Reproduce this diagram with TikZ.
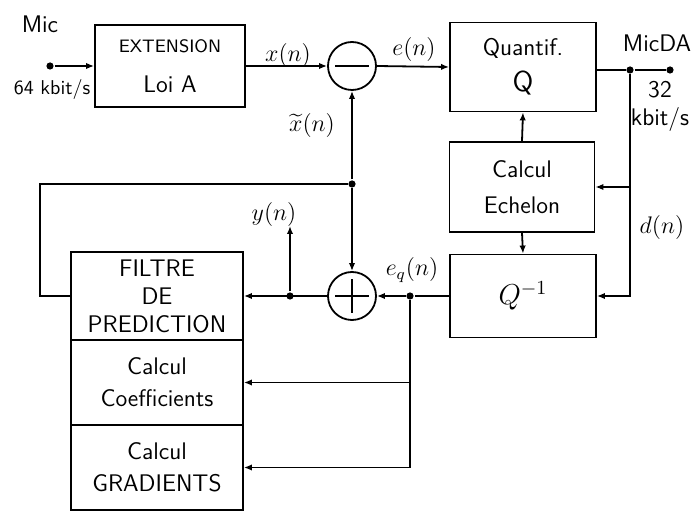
\documentclass[tikz,border=0pt]{standalone}
\usepackage{amsmath}
\usetikzlibrary{arrows.meta}

\begin{document}
\begin{tikzpicture}[x=0.5pt,y=-0.5pt,>={Latex[length=4pt,width=3.2pt]},
  line width=0.9pt,font=\sffamily,
  blk/.style 2 args={draw,inner sep=0pt,align=center,font=\sffamily\large,
    minimum width=#1*0.5pt,minimum height=#2*0.5pt},
  sumnode/.style={draw,circle,minimum size=24pt,inner sep=0pt},
  dot/.style={circle,fill,inner sep=0pt,minimum size=3.6pt},
  lbl/.style={inner sep=1pt,align=center,font=\sffamily\large}]

  \useasboundingbox (0,0) rectangle (697,513);

  % ================= blocs =================
  \node[blk={150}{82}] (ext) at (170,66)
    {{\small EXTENSION}\\[6pt]Loi A};
  \node[blk={146}{89}] (quant) at (523,67)
    {Quantif.\\[4pt]{\Large Q}};
  \node[blk={145}{90}] (ech) at (522,187)
    {Calcul\\[4pt]Echelon};
  \node[blk={146}{83}] (qinv) at (523,296) {\Large $Q^{-1}$};

  \node[blk={172}{88}] (filt) at (157,296)
    {FILTRE\\DE\\PREDICTION};
  \node[blk={172}{85}] (coef) at (157,382.5)
    {Calcul\\[2pt]Coefficients};
  \node[blk={172}{85}] (grad) at (157,467.5)
    {Calcul\\[2pt]GRADIENTS};

  % ================= sommateurs =================
  \node[sumnode] (minus) at (352,66) {};
  \draw ([xshift=4pt]minus.west) -- ([xshift=-4pt]minus.east);
  \node[sumnode] (plus) at (352,296) {};
  \draw ([xshift=4pt]plus.west) -- ([xshift=-4pt]plus.east);
  \draw ([yshift=-4pt]plus.north) -- ([yshift=4pt]plus.south);

  % ================= points et noeuds =================
  \node[dot] (micin) at (50,66) {};
  \node[dot] (micout) at (670,70) {};
  \node[dot] (jout) at (630,70) {};
  \node[dot] (jeq) at (410,296) {};
  \node[dot] (jy) at (290,296) {};
  \node[dot] (jfb) at (352,184) {};
  \coordinate (ytop) at (290,226);
  \coordinate (fbl) at (40,296);

  % ================= liaisons =================
  \draw[->] (micin) -- (ext.west);
  \draw[->] (ext.east) -- (minus.west);
  \draw[->] (minus.east) -- (quant.west);
  \draw (quant.east |- jout) -- (jout) -- (micout);
  \draw[->] (jout) |- (qinv.east);
  \draw[->] (jout |- ech.east) -- (ech.east);
  \draw[->] (ech.north) -- (quant.south);
  \draw[->] (ech.south) -- (qinv.north);
  \draw (qinv.west) -- (jeq);
  \draw[->] (jeq) -- (plus.east);
  \draw[->] (jeq) |- (coef.east);
  \draw[->] (jeq) |- (grad.east);
  \draw[->] (plus.west) -- (filt.east);
  \draw[->] (jy) -- (ytop);
  \draw (filt.west) -- (fbl) |- (jfb);
  \draw[->] (jfb) -- (minus.south);
  \draw[->] (jfb) -- (plus.north);

  % ================= etiquettes =================
  \node[lbl] (tmic) at (40,24) {Mic};
  \node[lbl,font=\sffamily] (tin) at (52,90) {64 kbit/s};
  \node[lbl] (tx) at (288,56) {$x(n)$};
  \node[lbl] (te) at (414,50) {$e(n)$};
  \node[lbl] (txt) at (312,126) {$\widetilde{x}(n)$};
  \node[lbl] (tda) at (657,43) {MicDA};
  \node[lbl] (tout) at (660,106) {32\\kbit/s};
  \node[lbl] (td) at (662,228) {$d(n)$};
  \node[lbl] (teq) at (412,270) {$e_q(n)$};
  \node[lbl] (ty) at (274,215) {$y(n)$};

\end{tikzpicture}
\end{document}
